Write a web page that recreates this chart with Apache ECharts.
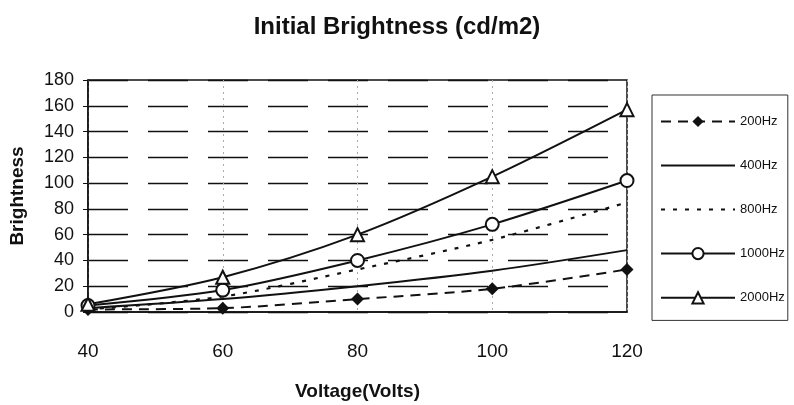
<!DOCTYPE html>
<html><head><meta charset="utf-8">
<script src="https://cdn.jsdelivr.net/npm/echarts@6/dist/echarts.min.js"></script>
<style>html,body{margin:0;padding:0;background:#fff}#c{width:794px;height:405px}</style>
</head><body><div id="c"></div>
<script>
const voltages = [40, 60, 80, 100, 120];
const s200 = [2, 3, 10, 18, 33];
const s400 = [3, 10, 20, 32, 48];
const s800 = [2, 12, 33, 56, 85];
const s1000 = [5, 17, 40, 68, 102];
const s2000 = [6, 27, 60, 105, 157];
const yTicks = [0, 20, 40, 60, 80, 100, 120, 140, 160, 180];

const pair = a => voltages.map((v, i) => [v, a[i]]);
const chart = echarts.init(document.getElementById('c'));
const F = 'Liberation Sans, Arial, sans-serif';
const hidden = { color: 'rgba(0,0,0,0)', borderColor: 'rgba(0,0,0,0)', borderWidth: 0 };
chart.setOption({
  animation: false,
  backgroundColor: '#fff',
  title: { text: 'Initial Brightness (cd/m2)', left: 'center', top: 10,
    textStyle: { fontFamily: F, fontSize: 24, fontWeight: 'bold', color: '#111' } },
  grid: { left: 88, right: 167, top: 80, bottom: 93, show: true, borderColor: '#111', borderWidth: 1.5,
    containLabel: false, outerBoundsMode: 'none' },
  xAxis: { type: 'value', min: 40, max: 120, interval: 20,
    name: 'Voltage(Volts)', nameLocation: 'middle', nameGap: 70,
    nameTextStyle: { fontFamily: F, fontSize: 19, fontWeight: 'bold', color: '#111' },
    axisLine: { lineStyle: { color: '#111', width: 1.5 } },
    axisTick: { show: false },
    axisLabel: { margin: 30, fontFamily: F, fontSize: 19, color: '#111' },
    splitLine: { show: true, lineStyle: { color: '#aaa', type: [2, 4], width: 1 } } },
  yAxis: { type: 'value', min: 0, max: 180, interval: 20,
    name: 'Brightness', nameLocation: 'middle', nameGap: 61,
    nameTextStyle: { fontFamily: F, fontSize: 19, fontWeight: 'bold', color: '#111' },
    axisLine: { show: true, lineStyle: { color: '#111', width: 1.5 } },
    axisTick: { show: true, inside: false, length: 5, lineStyle: { color: '#111' } },
    axisLabel: { margin: 14, fontFamily: F, fontSize: 18, color: '#111',
      formatter: v => yTicks.includes(v) ? String(v) : '' },
    splitLine: { show: true, lineStyle: { color: '#111', type: [40, 20], width: 1.3 } } },
  legend: { orient: 'vertical', left: 652, top: 95, padding: [20, 3, 16, 8],
    itemGap: 31, itemWidth: 74, itemHeight: 14,
    borderColor: '#333', borderWidth: 1,
    textStyle: { fontFamily: F, fontSize: 13, color: '#111' },
    data: ['200Hz', { name: '400Hz', itemStyle: hidden }, { name: '800Hz', itemStyle: hidden }, '1000Hz', '2000Hz'] },
  series: [
    { name: '200Hz', type: 'line', data: pair(s200), smooth: 0.3,
      symbol: 'diamond', symbolSize: 13, itemStyle: { color: '#111' },
      lineStyle: { color: '#111', width: 2, type: [10, 7] } },
    { name: '400Hz', type: 'line', data: pair(s400), smooth: 0.3,
      symbol: 'none', itemStyle: { color: '#111' },
      lineStyle: { color: '#111', width: 2 } },
    { name: '800Hz', type: 'line', data: pair(s800), smooth: 0.3,
      symbol: 'none', itemStyle: { color: '#111' },
      lineStyle: { color: '#111', width: 2.2, type: [4, 8] } },
    { name: '1000Hz', type: 'line', data: pair(s1000), smooth: 0.3,
      symbol: 'circle', symbolSize: 13, itemStyle: { color: '#fff', borderColor: '#111', borderWidth: 2 },
      lineStyle: { color: '#111', width: 2 } },
    { name: '2000Hz', type: 'line', data: pair(s2000), smooth: 0.3,
      symbol: 'triangle', symbolSize: 13, itemStyle: { color: '#fff', borderColor: '#111', borderWidth: 2 },
      lineStyle: { color: '#111', width: 2 } }
  ]
});
</script></body></html>
